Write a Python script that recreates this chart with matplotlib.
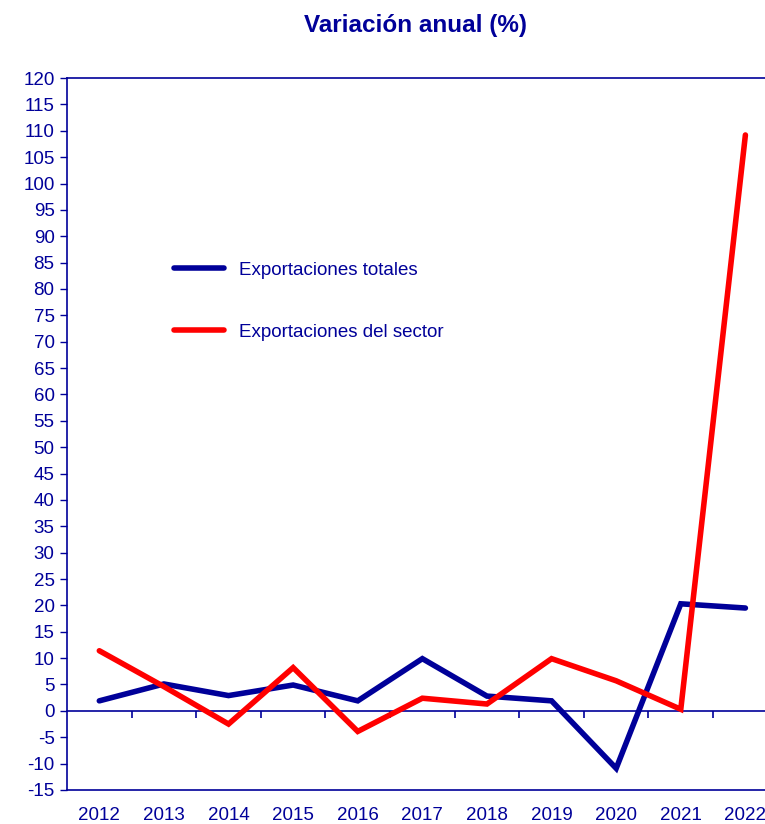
import matplotlib.pyplot as plt

plt.rcParams['font.family'] = ['Liberation Sans', 'DejaVu Sans']
plt.rcParams['axes.unicode_minus'] = False

navy = '#000099'
red = '#ff0000'

years = ['2012', '2013', '2014', '2015', '2016', '2017', '2018', '2019', '2020', '2021', '2022']
totales = [1.9, 5.1, 2.9, 4.9, 1.9, 9.9, 2.8, 1.9, -10.9, 20.3, 19.5]
sector = [11.4, 4.6, -2.5, 8.2, -3.9, 2.4, 1.3, 9.9, 5.7, 0.3, 109.2]

fig = plt.figure(figsize=(7.65, 8.24), dpi=100)
ax = fig.add_axes([0.0876, 0.0413, 0.929, 0.864])

x = list(range(len(years)))
ax.plot(x, totales, color=navy, lw=4, solid_capstyle='round', solid_joinstyle='miter', label='Exportaciones totales')
ax.plot(x, sector, color=red, lw=4, solid_capstyle='round', solid_joinstyle='miter', label='Exportaciones del sector')

ax.set_xlim(-0.5, 10.5)
ax.set_ylim(-15, 120)
ax.set_yticks(range(-15, 121, 5))
ax.set_xticks(x)
ax.set_xticklabels(years)
ax.tick_params(axis='x', length=0, pad=12, labelsize=13.5, labelcolor=navy)
ax.tick_params(axis='y', length=5, width=1, color=navy, pad=4, labelsize=13.5, labelcolor=navy)

for s in ['left', 'top', 'bottom']:
    ax.spines[s].set_color(navy)
    ax.spines[s].set_linewidth(1.2)
ax.spines['right'].set_visible(False)

# eje en cero con marcas entre categorias
zero = ax.secondary_xaxis(15 / 135)
zero.set_xticks([i + 0.5 for i in x[:-1]])
zero.set_xticklabels([])
zero.tick_params(axis='x', direction='out', length=5, width=1.2, color=navy)
zero.spines['bottom'].set_color(navy)
zero.spines['bottom'].set_linewidth(1.2)

ax.set_title('Variación anual (%)', fontsize=17.5, fontweight='bold', color=navy, pad=33, x=0.49)

leg = ax.legend(loc='upper left', bbox_to_anchor=(0.127, 0.766), frameon=False,
                fontsize=13.5, handlelength=2.67, handletextpad=0.8, labelspacing=2.4)
for t in leg.get_texts():
    t.set_color(navy)

fig.savefig('out.png', dpi=100)
